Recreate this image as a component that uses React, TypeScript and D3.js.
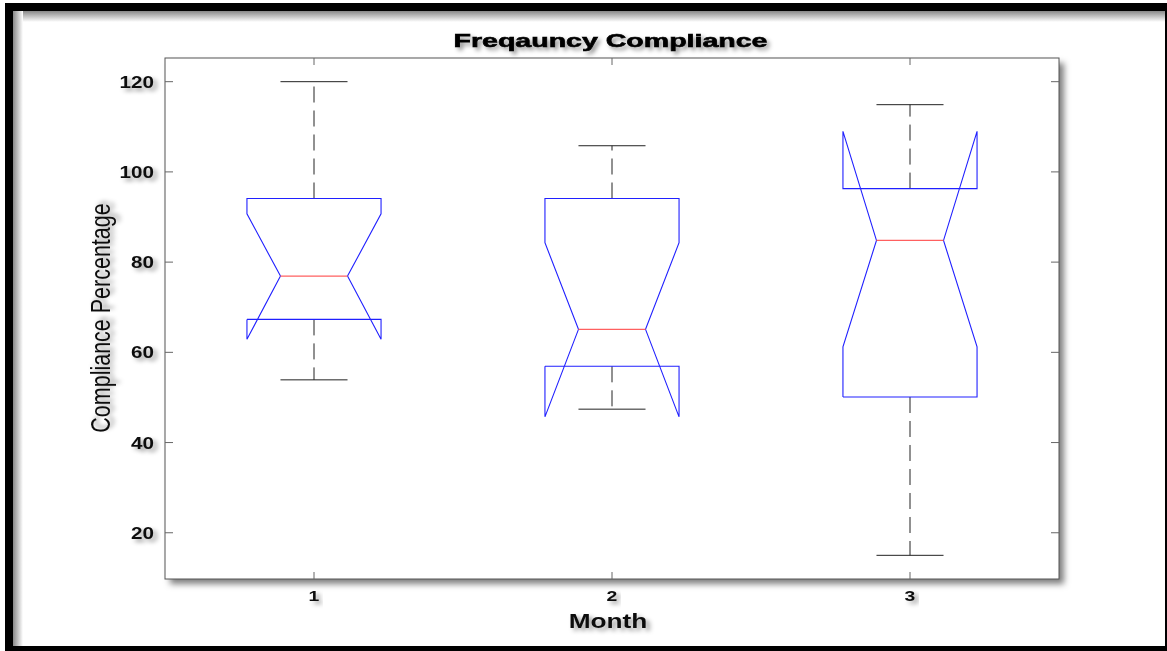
import React from "react";
import * as d3 from "d3";

const months = [1, 2, 3];
const upperWhisker = [120, 105.8, 114.9];
const q3 = [94.1, 94.1, 96.3];
const notchHigh = [90.7, 84.3, 109.0];
const median = [76.9, 65.1, 84.8];
const notchLow = [62.9, 45.7, 61.2];
const q1 = [67.3, 56.9, 50.1];
const lowerWhisker = [53.9, 47.4, 15.0];
const yTicks = [20, 40, 60, 80, 100, 120];
const title = "Freqauncy Compliance";
const xLabel = "Month";
const yLabel = "Compliance Percentage";

const W = 1167;
const H = 651;
const plot = { left: 165, top: 58, right: 1059, bottom: 579 };
const SX = 1.25;

export default function App() {
  const x = d3.scaleLinear().domain([0.5, 3.5]).range([plot.left, plot.right]);
  const y = d3.scaleLinear().domain([9.75, 125.25]).range([plot.bottom, plot.top]);
  const halfW = 0.225;
  const inset = halfW / 2;
  const line = d3.line<[number, number]>().x((d) => x(d[0])).y((d) => y(d[1]));
  const font = "'Liberation Sans', Arial, sans-serif";

  return (
    <svg width={W} height={H} style={{ position: "absolute", left: 0, top: 0, display: "block", background: "#fff" }}>
      <defs>
        <filter id="boxShadow" x="-5%" y="-5%" width="115%" height="115%">
          <feDropShadow dx="5" dy="5" stdDeviation="3" floodColor="#000" floodOpacity="0.5" />
        </filter>
        <filter id="txtShadow" x="-20%" y="-40%" width="150%" height="200%">
          <feDropShadow dx="3" dy="3" stdDeviation="2" floodColor="#000" floodOpacity="0.4" />
        </filter>
        <linearGradient id="gTop" x1="0" y1="0" x2="0" y2="1">
          <stop offset="0" stopColor="#888" />
          <stop offset="1" stopColor="#fff" />
        </linearGradient>
        <linearGradient id="gLeft" x1="0" y1="0" x2="1" y2="0">
          <stop offset="0" stopColor="#888" />
          <stop offset="1" stopColor="#fff" />
        </linearGradient>
      </defs>
      <rect x={0} y={0} width={W} height={H} fill="#fff" />
      {/* frame */}
      <rect x={13} y={11} width={W - 13} height={11} fill="url(#gTop)" />
      <rect x={13} y={11} width={10} height={H - 11} fill="url(#gLeft)" />
      <rect x={5} y={3} width={W - 5} height={8} fill="#000" />
      <rect x={5} y={3} width={8} height={H - 3} fill="#000" />
      <rect x={1165} y={3} width={2} height={H - 3} fill="#000" />
      <rect x={5} y={646} width={W - 5} height={5} fill="#000" />

      {/* plot box */}
      <rect
        x={plot.left}
        y={plot.top}
        width={plot.right - plot.left}
        height={plot.bottom - plot.top}
        fill="#fff"
        filter="url(#boxShadow)"
      />
      <rect
        x={plot.left}
        y={plot.top}
        width={plot.right - plot.left}
        height={plot.bottom - plot.top}
        fill="none"
        stroke="#555"
        strokeWidth={1}
      />
      {/* ticks */}
      {yTicks.map((t) => (
        <g key={"yt" + t}>
          <line x1={plot.left} x2={plot.left + 8} y1={y(t)} y2={y(t)} stroke="#666" />
          <line x1={plot.right - 8} x2={plot.right} y1={y(t)} y2={y(t)} stroke="#666" />
          <text
            transform={`translate(${plot.left - 11},${y(t) + 6}) scale(${SX},1)`}
            textAnchor="end"
            fontFamily={font}
            fontWeight="bold"
            fontSize={16.5}
            fill="#111"
            filter="url(#txtShadow)"
          >
            {t}
          </text>
        </g>
      ))}
      {months.map((m) => (
        <g key={"xt" + m}>
          <line x1={x(m)} x2={x(m)} y1={plot.bottom} y2={plot.bottom - 7} stroke="#666" />
          <line x1={x(m)} x2={x(m)} y1={plot.top} y2={plot.top + 7} stroke="#666" />
          <text
            transform={`translate(${x(m)},${601}) scale(${SX},1)`}
            textAnchor="middle"
            fontFamily={font}
            fontWeight="bold"
            fontSize={15.5}
            fill="#111"
            filter="url(#txtShadow)"
          >
            {m}
          </text>
        </g>
      ))}

      {/* boxes */}
      {months.map((m, i) => {
        const l = m - halfW;
        const r = m + halfW;
        const pts: [number, number][] = [
          [l, q1[i]],
          [l, notchLow[i]],
          [l + inset, median[i]],
          [l, notchHigh[i]],
          [l, q3[i]],
          [r, q3[i]],
          [r, notchHigh[i]],
          [r - inset, median[i]],
          [r, notchLow[i]],
          [r, q1[i]],
          [l, q1[i]],
        ];
        return (
          <g key={"b" + m}>
            <line x1={x(m)} x2={x(m)} y1={y(q3[i])} y2={y(upperWhisker[i])} stroke="#222" strokeDasharray="16,8" />
            <line x1={x(m)} x2={x(m)} y1={y(q1[i])} y2={y(lowerWhisker[i])} stroke="#222" strokeDasharray="16,8" />
            <line x1={x(m - inset)} x2={x(m + inset)} y1={y(upperWhisker[i])} y2={y(upperWhisker[i])} stroke="#222" />
            <line x1={x(m - inset)} x2={x(m + inset)} y1={y(lowerWhisker[i])} y2={y(lowerWhisker[i])} stroke="#222" />
            <path d={line(pts) || ""} fill="none" stroke="#2020ff" strokeWidth={1.1} />
            <line x1={x(l + inset)} x2={x(r - inset)} y1={y(median[i])} y2={y(median[i])} stroke="#ff6060" strokeWidth={1.2} />
          </g>
        );
      })}

      {/* labels */}
      <text
        x={610.5}
        y={47}
        textAnchor="middle"
        fontFamily={font}
        fontWeight="bold"
        fontSize={19}
        textLength={314}
        lengthAdjust="spacingAndGlyphs"
        fill="#000"
        stroke="#000"
        strokeWidth={0.6}
        filter="url(#txtShadow)"
      >
        {title}
      </text>
      <text
        transform={`translate(${608},${628}) scale(${SX},1)`}
        textAnchor="middle"
        fontFamily={font}
        fontWeight="bold"
        fontSize={21}
        fill="#111"
        filter="url(#txtShadow)"
      >
        {xLabel}
      </text>
      <text
        transform={`translate(${110},${318}) scale(${SX},1) rotate(-90)`}
        textAnchor="middle"
        fontFamily={font}
        fontSize={21.5}
        fill="#111"
        filter="url(#txtShadow)"
      >
        {yLabel}
      </text>
    </svg>
  );
}
